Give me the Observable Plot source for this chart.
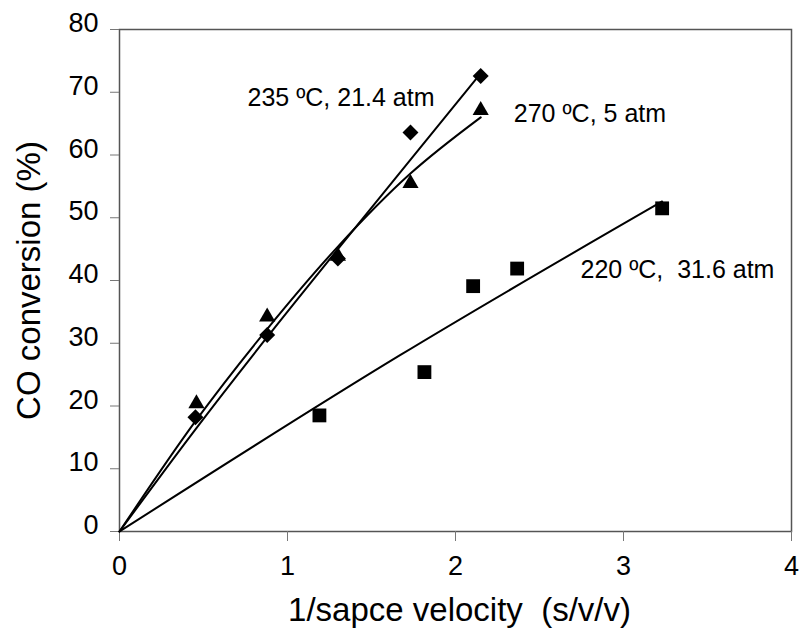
<!DOCTYPE html>
<html>
<head>
<meta charset="utf-8">
<script src="https://cdn.jsdelivr.net/npm/d3@7"></script>
<script src="https://cdn.jsdelivr.net/npm/@observablehq/plot@0.6"></script>
<style>
  html, body { margin: 0; padding: 0; background: #fff; }
  svg { display: block; }
</style>
</head>
<body>
<div id="chart"></div>
<script>
// Measured points
const diamondX = [0.452, 0.879, 1.30, 1.732, 2.15];
const diamondY = [18.2, 31.3, 43.5, 63.6, 72.6];
const triangleX = [0.458, 0.879, 1.30, 1.732, 2.15];
const triangleY = [20.4, 34.2, 43.9, 55.5, 67.1];
const squareX = [1.19, 1.815, 2.105, 2.367, 3.23];
const squareY = [18.5, 25.4, 39.1, 41.9, 51.5];

// Trend lines
const fit235X = [0, 0.45, 0.88, 1.30, 1.73, 2.15];
const fit235Y = [0, 16.2, 31.0, 45.0, 59.2, 73.0];
const fit270X = [0, 0.45, 0.88, 1.30, 1.73, 2.15];
const fit270Y = [0, 17.5, 32.3, 45.4, 57.0, 66.0];
const fit220X = [0, 1.67, 3.23];
const fit220Y = [0, 28.1, 52.6];

// Annotations
const labelText = ["235 \u00baC, 21.4 atm", "270 \u00baC, 5 atm", "220 \u00baC,  31.6 atm"];
const labelX = [0.762, 2.347, 2.744];
const labelY = [69.1, 66.6, 41.6];

// Axes
const xTicks = [0, 1, 2, 3, 4];
const yTicks = [0, 10, 20, 30, 40, 50, 60, 70, 80];
const xTitle = "1/sapce velocity  (s/v/v)";
const yTitle = "CO conversion (%)";

const pts = (xs, ys) => xs.map((x, i) => ({x, y: ys[i]}));
const labels = labelText.map((t, i) => ({t, x: labelX[i], y: labelY[i]}));

const font = "'Liberation Sans', Arial, Helvetica, sans-serif";

const chart = Plot.plot({
  width: 799,
  height: 636,
  marginLeft: 119,
  marginRight: 8,
  marginTop: 29,
  marginBottom: 105,
  style: {fontFamily: font, background: "#fff", color: "#000", overflow: "visible"},
  x: {domain: [0, 4]},
  y: {domain: [0, 80]},
  marks: [
    Plot.frame({stroke: "#555", strokeWidth: 1.5}),
    // ticks
    Plot.axisX({ticks: xTicks, tickSize: 10, tickFormat: () => "", stroke: "#777", label: null}),
    Plot.axisY({ticks: yTicks, tickSize: 9, tickFormat: () => "", stroke: "#777", label: null}),
    // tick labels
    Plot.text(xTicks, {x: d => d, frameAnchor: "bottom", dy: 24, lineAnchor: "top", textAnchor: "middle", fontSize: 27, fill: "#000", text: d => String(d)}),
    Plot.text(yTicks, {y: d => d, frameAnchor: "left", dx: -21, dy: -6, lineAnchor: "middle", textAnchor: "end", fontSize: 27, fill: "#000", text: d => String(d)}),
    // trend lines
    Plot.line(pts(fit235X, fit235Y), {x: "x", y: "y", stroke: "#000", strokeWidth: 2, curve: "monotone-x"}),
    Plot.line(pts(fit270X, fit270Y), {x: "x", y: "y", stroke: "#000", strokeWidth: 2, curve: "monotone-x"}),
    Plot.line(pts(fit220X, fit220Y), {x: "x", y: "y", stroke: "#000", strokeWidth: 2, curve: "monotone-x"}),
    // markers
    Plot.dot(pts(diamondX, diamondY), {x: "x", y: "y", symbol: "diamond2", r: 7.2, fill: "#000", stroke: "none"}),
    Plot.dot(pts(triangleX, triangleY), {x: "x", y: "y", symbol: "triangle", r: 6.0, fill: "#000", stroke: "none"}),
    Plot.dot(pts(squareX, squareY), {x: "x", y: "y", symbol: "square", r: 7.8, fill: "#000", stroke: "none"}),
    // annotations
    Plot.text(labels, {x: "x", y: "y", text: "t", textAnchor: "start", lineAnchor: "middle", fontSize: 25, fill: "#000"}),
    // axis titles
    Plot.text([xTitle], {frameAnchor: "bottom", dx: 4, dy: 89, lineAnchor: "bottom", textAnchor: "middle", fontSize: 33, fill: "#000"}),
    Plot.text([yTitle], {frameAnchor: "left", dx: -90, dy: 0, rotate: -90, lineAnchor: "middle", textAnchor: "middle", fontSize: 33, fill: "#000"})
  ]
});

document.getElementById("chart").appendChild(chart);
</script>
</body>
</html>
